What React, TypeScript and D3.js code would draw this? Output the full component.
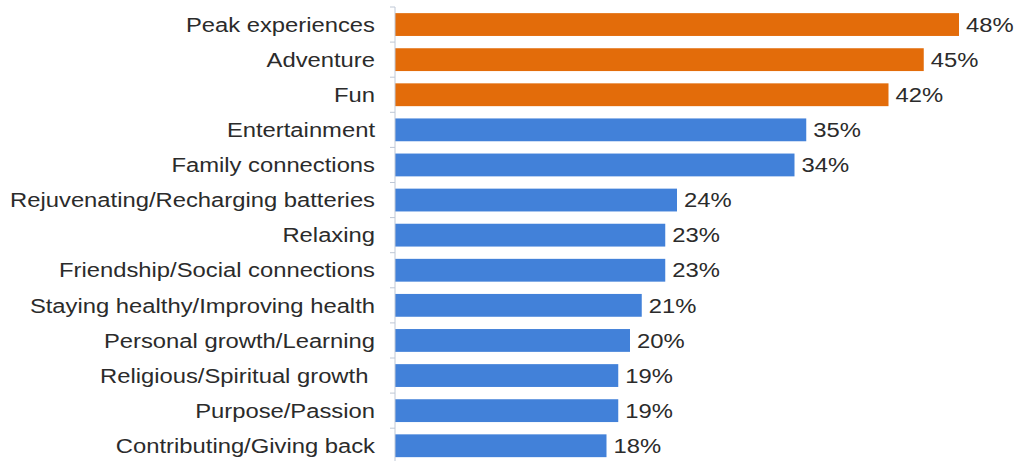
import React from "react";
import * as d3 from "d3";

const categories = [
  "Peak experiences",
  "Adventure",
  "Fun",
  "Entertainment",
  "Family connections",
  "Rejuvenating/Recharging batteries",
  "Relaxing",
  "Friendship/Social connections",
  "Staying healthy/Improving health",
  "Personal growth/Learning",
  "Religious/Spiritual growth ",
  "Purpose/Passion",
  "Contributing/Giving back",
];
const values = [48, 45, 42, 35, 34, 24, 23, 23, 21, 20, 19, 19, 18];
const highlighted = [true, true, true, false, false, false, false, false, false, false, false, false, false];

const W = 1018;
const H = 461;
const axisX = 395;
const ORANGE = "#E36C0A";
const BLUE = "#4281D9";
const TEXT_STRETCH = 1.19;

export default function App() {
  const x = d3.scaleLinear().domain([0, 50]).range([axisX, axisX + 50 * 11.75]);
  const y = d3
    .scaleBand<string>()
    .domain(categories)
    .range([7, 7 + 13 * 35.1])
    .paddingInner(0.35)
    .paddingOuter(0.175);

  const font = "Arial, 'Liberation Sans', sans-serif";
  const boundaries = d3.range(categories.length + 1).map((i) => 7 + i * y.step());

  return (
    <div style={{ position: "absolute", left: 0, top: 0 }}>
      <svg width={W} height={H} style={{ display: "block", background: "#fff" }}>
        {categories.map((c, i) => {
          const yc = (y(c) ?? 0) + y.bandwidth() / 2;
          return (
            <g key={c}>
              <rect
                x={x(0)}
                y={y(c)}
                width={x(values[i]) - x(0)}
                height={y.bandwidth()}
                fill={highlighted[i] ? ORANGE : BLUE}
              />
              <text
                transform={`translate(375,${yc}) scale(${TEXT_STRETCH},1)`}
                dy="0.36em"
                textAnchor="end"
                fontFamily={font}
                fontSize={20}
                fill="#2b2b2b"
                style={{ whiteSpace: "pre" }}
              >
                {c}
              </text>
              <text
                transform={`translate(${x(values[i]) + 7},${yc}) scale(${TEXT_STRETCH},1)`}
                dy="0.36em"
                fontFamily={font}
                fontSize={20}
                fill="#2b2b2b"
              >
                {values[i]}%
              </text>
            </g>
          );
        })}
        <line x1={axisX} x2={axisX} y1={boundaries[0]} y2={boundaries[boundaries.length - 1]} stroke="#bfc8d6" strokeWidth={1} />
        {boundaries.map((b, i) => (
          <line key={i} x1={axisX - 5} x2={axisX} y1={b} y2={b} stroke="#bfc8d6" strokeWidth={1} />
        ))}
      </svg>
    </div>
  );
}
